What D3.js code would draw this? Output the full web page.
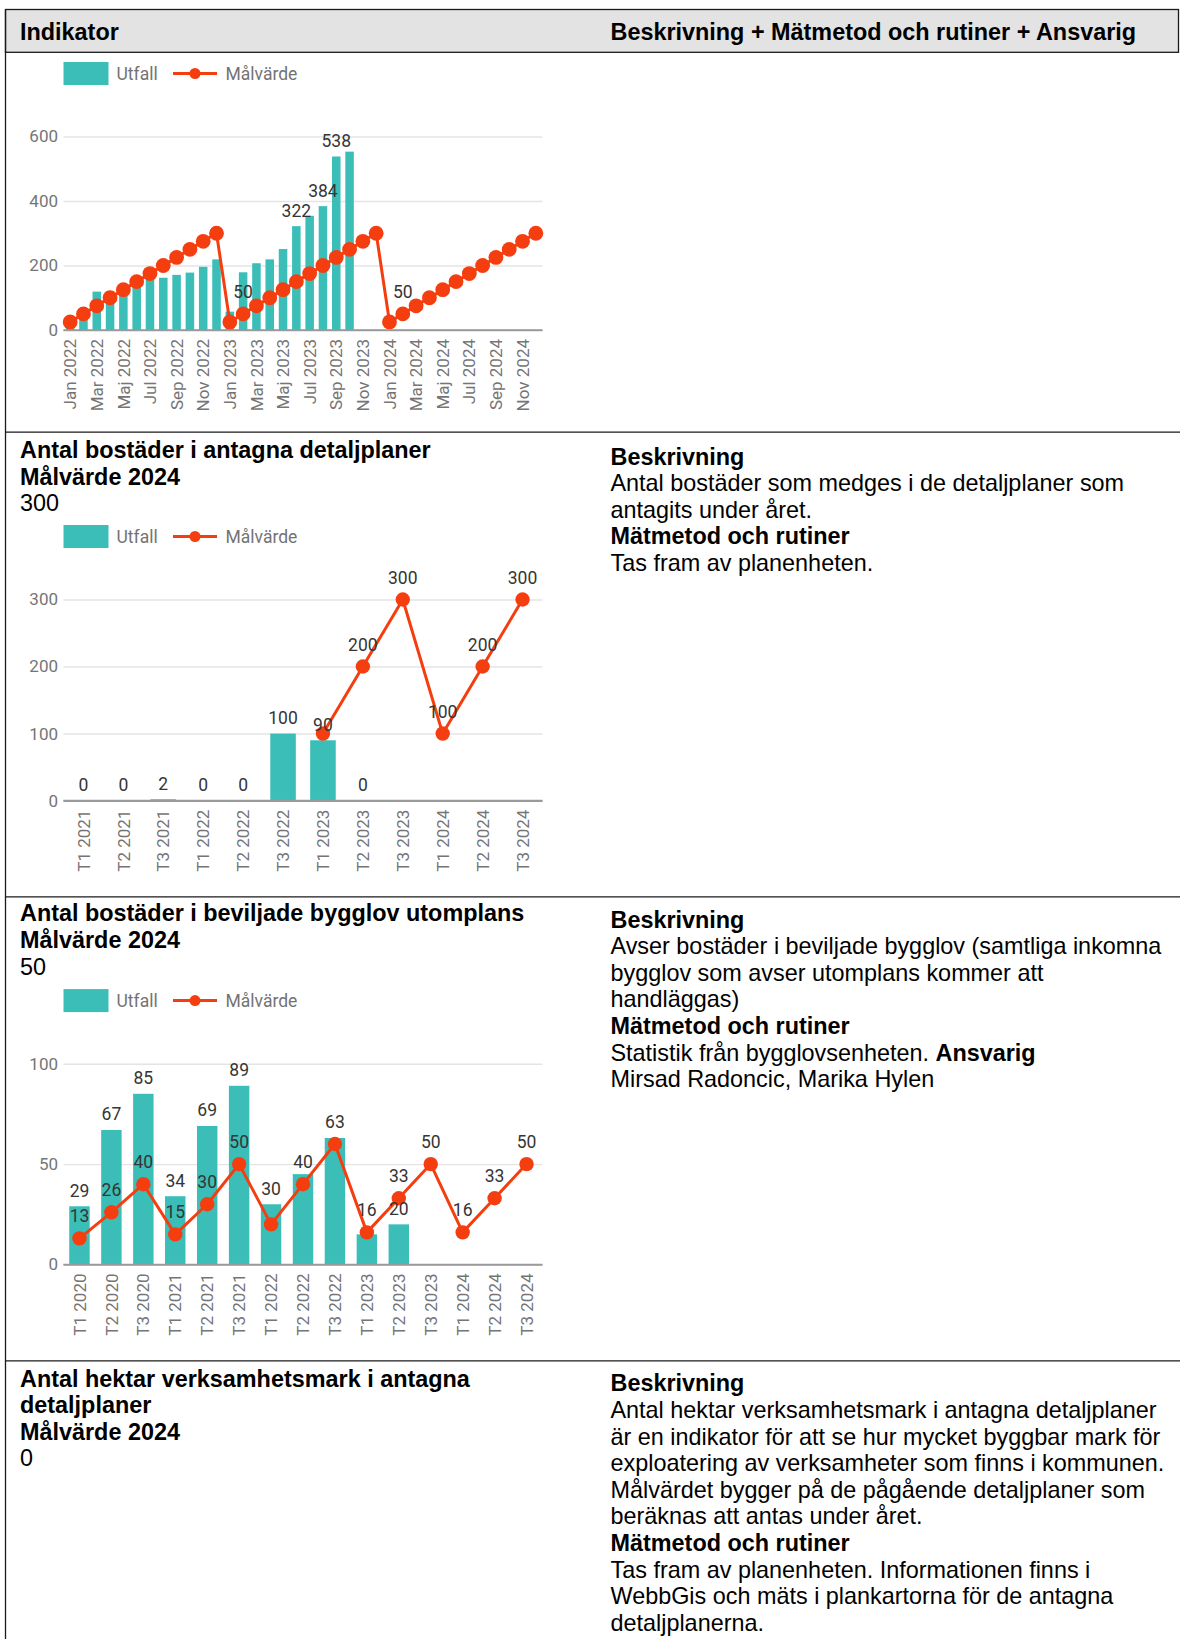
<!DOCTYPE html>
<html>
<head>
<meta charset="utf-8">
<script src="https://cdn.jsdelivr.net/npm/d3@7"></script>
<style>
  html, body { margin: 0; padding: 0; background: #fff; }
  svg { display: block; }
</style>
</head>
<body>
<svg id="page" width="1180" height="1639"></svg>
<script>
// ---------- Chart 1: monthly values 2022–2024 ----------
const monthCats = [
  "Jan 2022","Feb 2022","Mar 2022","Apr 2022","Maj 2022","Jun 2022","Jul 2022","Aug 2022","Sep 2022","Okt 2022","Nov 2022","Dec 2022",
  "Jan 2023","Feb 2023","Mar 2023","Apr 2023","Maj 2023","Jun 2023","Jul 2023","Aug 2023","Sep 2023","Okt 2023","Nov 2023","Dec 2023",
  "Jan 2024","Feb 2024","Mar 2024","Apr 2024","Maj 2024","Jun 2024","Jul 2024","Aug 2024","Sep 2024","Okt 2024","Nov 2024","Dec 2024"
];
const monthUtfall = [
  20, 45, 119, 120, 128, 140, 158, 162, 171, 178, 196, 219,
  57, 179, 207, 219, 251, 322, 354, 384, 538, 553, null, null,
  null, null, null, null, null, null, null, null, null, null, null, null
];
const monthMalvarde = [
  25, 50, 75, 100, 125, 150, 175, 200, 225, 250, 275, 300,
  25, 50, 75, 100, 125, 150, 175, 200, 225, 250, 275, 300,
  25, 50, 75, 100, 125, 150, 175, 200, 225, 250, 275, 300
];
const monthTickLabels = [
  "Jan 2022","Mar 2022","Maj 2022","Jul 2022","Sep 2022","Nov 2022",
  "Jan 2023","Mar 2023","Maj 2023","Jul 2023","Sep 2023","Nov 2023",
  "Jan 2024","Mar 2024","Maj 2024","Jul 2024","Sep 2024","Nov 2024"
];
const monthYTicks = [0, 200, 400, 600];
const monthBarLabelCats = ["Jun 2023", "Aug 2023", "Sep 2023"];
const monthLineLabelCats = ["Feb 2023", "Feb 2024"];

// ---------- Chart 2: bostäder i antagna detaljplaner ----------
const planCats = ["T1 2021","T2 2021","T3 2021","T1 2022","T2 2022","T3 2022","T1 2023","T2 2023","T3 2023","T1 2024","T2 2024","T3 2024"];
const planUtfall = [0, 0, 2, 0, 0, 100, 90, 0, null, null, null, null];
const planMalvarde = [null, null, null, null, null, null, 100, 200, 300, 100, 200, 300];
const planYTicks = [0, 100, 200, 300];
const planBarLabelCats = ["T1 2021","T2 2021","T3 2021","T1 2022","T2 2022","T3 2022","T1 2023","T2 2023"];
const planLineLabelCats = ["T2 2023","T3 2023","T1 2024","T2 2024","T3 2024"];

// ---------- Chart 3: bostäder i beviljade bygglov utomplans ----------
const bygglovCats = ["T1 2020","T2 2020","T3 2020","T1 2021","T2 2021","T3 2021","T1 2022","T2 2022","T3 2022","T1 2023","T2 2023","T3 2023","T1 2024","T2 2024","T3 2024"];
const bygglovUtfall = [29, 67, 85, 34, 69, 89, 30, 45, 63, 15, 20, null, null, null, null];
const bygglovMalvarde = [13, 26, 40, 15, 30, 50, 20, 40, 60, 16, 33, 50, 16, 33, 50];
const bygglovYTicks = [0, 50, 100];
const bygglovBarLabelCats = ["T1 2020","T2 2020","T3 2020","T1 2021","T2 2021","T3 2021","T1 2022","T3 2022","T2 2023"];
const bygglovLineLabelCats = ["T1 2020","T2 2020","T3 2020","T1 2021","T2 2021","T3 2021","T2 2022","T1 2023","T2 2023","T3 2023","T1 2024","T2 2024","T3 2024"];

// ---------- Table text ----------
const headerTitles = ["Indikator", "Beskrivning + Mätmetod och rutiner + Ansvarig"];
const legendNames = ["Utfall", "Målvärde"];

const planLeftText = [
  [["Antal bostäder i antagna detaljplaner", true]],
  [["Målvärde 2024", true]],
  [["300", false]]
];
const planRightText = [
  [["Beskrivning", true]],
  [["Antal bostäder som medges i de detaljplaner som", false]],
  [["antagits under året.", false]],
  [["Mätmetod och rutiner", true]],
  [["Tas fram av planenheten.", false]]
];
const bygglovLeftText = [
  [["Antal bostäder i beviljade bygglov utomplans", true]],
  [["Målvärde 2024", true]],
  [["50", false]]
];
const bygglovRightText = [
  [["Beskrivning", true]],
  [["Avser bostäder i beviljade bygglov (samtliga inkomna", false]],
  [["bygglov som avser utomplans kommer att", false]],
  [["handläggas)", false]],
  [["Mätmetod och rutiner", true]],
  [["Statistik från bygglovsenheten. ", false], ["Ansvarig", true]],
  [["Mirsad Radoncic, Marika Hylen", false]]
];
const hektarLeftText = [
  [["Antal hektar verksamhetsmark i antagna", true]],
  [["detaljplaner", true]],
  [["Målvärde 2024", true]],
  [["0", false]]
];
const hektarRightText = [
  [["Beskrivning", true]],
  [["Antal hektar verksamhetsmark i antagna detaljplaner", false]],
  [["är en indikator för att se hur mycket byggbar mark för", false]],
  [["exploatering av verksamheter som finns i kommunen.", false]],
  [["Målvärdet bygger på de pågående detaljplaner som", false]],
  [["beräknas att antas under året.", false]],
  [["Mätmetod och rutiner", true]],
  [["Tas fram av planenheten. Informationen finns i", false]],
  [["WebbGis och mäts i plankartorna för de antagna", false]],
  [["detaljplanerna.", false]]
];

// ---------- Styling ----------
const TEAL = "#3bbdb8";
const RED = "#f53e10";
const TABLE_FONT = "'Liberation Sans', Arial, sans-serif";
const CHART_FONT = "Roboto, 'Noto Sans', sans-serif";
const TEXT_SIZE = 23.4;
const LINE_H = 26.6;

const svg = d3.select("#page");

// ---------- Table frame ----------
const tableLeft = 5.5, tableRight = 1178.5;
const headerTop = 9.5, headerBottom = 52.3;
const rowLines = [432.2, 896.8, 1360.9];

svg.append("rect")
  .attr("x", tableLeft).attr("y", headerTop)
  .attr("width", tableRight - tableLeft).attr("height", headerBottom - headerTop)
  .attr("fill", "#e3e3e3").attr("stroke", "#1a1a1a").attr("stroke-width", 1.3);

svg.append("line")
  .attr("x1", tableLeft).attr("x2", tableLeft)
  .attr("y1", headerTop).attr("y2", 1639)
  .attr("stroke", "#1a1a1a").attr("stroke-width", 1.3);

svg.selectAll("line.rowsep").data(rowLines).enter().append("line")
  .attr("class", "rowsep")
  .attr("x1", tableLeft).attr("x2", 1180)
  .attr("y1", d => d).attr("y2", d => d)
  .attr("stroke", "#1a1a1a").attr("stroke-width", 1.3);

svg.selectAll("text.hdr").data(headerTitles).enter().append("text")
  .attr("class", "hdr")
  .attr("x", (d, i) => i === 0 ? 20 : 610.5)
  .attr("y", 39.5)
  .attr("font-family", TABLE_FONT).attr("font-size", TEXT_SIZE)
  .attr("font-weight", "bold").attr("fill", "#000")
  .text(d => d);

function textBlock(lines, x, firstBaseline) {
  const g = svg.append("g");
  lines.forEach((segs, i) => {
    const t = g.append("text")
      .attr("x", x).attr("y", firstBaseline + i * LINE_H)
      .attr("font-family", TABLE_FONT).attr("font-size", TEXT_SIZE)
      .attr("fill", "#000");
    segs.forEach(([s, bold]) => {
      t.append("tspan").attr("font-weight", bold ? "bold" : "normal").text(s);
    });
  });
}

textBlock(planLeftText, 20, rowLines[0] + 26);
textBlock(planRightText, 610.5, rowLines[0] + 32.3);
textBlock(bygglovLeftText, 20, rowLines[1] + 24.5);
textBlock(bygglovRightText, 610.5, rowLines[1] + 30.8);
textBlock(hektarLeftText, 20, rowLines[2] + 25.6);
textBlock(hektarRightText, 610.5, rowLines[2] + 30.5);

// ---------- Combo chart (bars + line) ----------
function comboChart(cfg) {
  const g = svg.append("g");
  const x0 = 63.5, x1 = 542.5;
  const pad = 0.36;

  const x = d3.scaleBand().domain(cfg.cats).range([x0, x1])
    .paddingInner(pad).paddingOuter(pad / 2);
  const cx = c => x(c) + x.bandwidth() / 2;
  const y = d3.scaleLinear().domain([0, d3.max(cfg.ticks)]).range([cfg.base, cfg.top]);

  // legend
  const ly = cfg.legendY;
  const leg = g.append("g");
  leg.append("rect").attr("x", 63.5).attr("y", ly - 11.5).attr("width", 45).attr("height", 23).attr("fill", TEAL);
  leg.append("text").attr("x", 116.5).attr("y", ly).attr("dy", "0.36em")
    .attr("font-family", CHART_FONT).attr("font-size", 17.5).attr("fill", "#737373").text(legendNames[0]);
  leg.append("line").attr("x1", 173).attr("x2", 217).attr("y1", ly).attr("y2", ly)
    .attr("stroke", RED).attr("stroke-width", 3);
  leg.append("circle").attr("cx", 195).attr("cy", ly).attr("r", 5.5).attr("fill", RED);
  leg.append("text").attr("x", 225.5).attr("y", ly).attr("dy", "0.36em")
    .attr("font-family", CHART_FONT).attr("font-size", 17.5).attr("fill", "#737373").text(legendNames[1]);

  // y axis with gridlines
  const ya = g.append("g").attr("transform", `translate(${x0},0)`)
    .call(d3.axisLeft(y).tickValues(cfg.ticks).tickSize(-(x1 - x0)).tickPadding(5.5));
  ya.select(".domain").remove();
  ya.selectAll(".tick line")
    .attr("stroke", d => d === 0 ? "#9a9a9a" : "#e4e4e4")
    .attr("stroke-width", d => d === 0 ? 1.6 : 1.4);
  ya.selectAll(".tick text")
    .attr("font-family", CHART_FONT).attr("font-size", 17).attr("fill", "#757575");

  // x axis with rotated labels
  const xa = g.append("g").attr("transform", `translate(0,${cfg.base})`)
    .call(d3.axisBottom(x).tickValues(cfg.tickCats).tickSize(0));
  xa.select(".domain").remove();
  xa.selectAll(".tick text")
    .attr("transform", "rotate(-90)")
    .attr("text-anchor", "end")
    .attr("x", -9).attr("y", 0).attr("dy", "0.36em")
    .attr("font-family", CHART_FONT).attr("font-size", 17).attr("fill", "#757575");

  // bars
  const barData = cfg.cats.map((c, i) => ({ c, v: cfg.utfall[i] })).filter(d => d.v != null);
  g.append("g").selectAll("rect").data(barData).enter().append("rect")
    .attr("x", d => x(d.c))
    .attr("y", d => y(d.v))
    .attr("width", x.bandwidth())
    .attr("height", d => y(0) - y(d.v))
    .attr("fill", TEAL);

  // zero line over bars
  g.append("line").attr("x1", x0).attr("x2", x1).attr("y1", y(0)).attr("y2", y(0))
    .attr("stroke", "#9a9a9a").attr("stroke-width", 1.6);

  // target line
  const lineData = cfg.cats.map((c, i) => ({ c, v: cfg.malvarde[i] }));
  const line = d3.line().defined(d => d.v != null).x(d => cx(d.c)).y(d => y(d.v));
  g.append("path").datum(lineData).attr("d", line)
    .attr("fill", "none").attr("stroke", RED).attr("stroke-width", 3).attr("stroke-linejoin", "round");
  g.append("g").selectAll("circle").data(lineData.filter(d => d.v != null)).enter().append("circle")
    .attr("cx", d => cx(d.c)).attr("cy", d => y(d.v)).attr("r", cfg.dotR).attr("fill", RED);

  // value labels
  const lab = g.append("g").attr("font-family", CHART_FONT).attr("font-size", 17.5)
    .attr("fill", "#353535").attr("text-anchor", "middle");
  lab.selectAll("text.bl").data(barData.filter(d => cfg.barLabelCats.includes(d.c))).enter().append("text")
    .attr("class", "bl")
    .attr("x", d => cx(d.c)).attr("y", d => y(d.v) - 9.5)
    .text(d => d.v);
  lab.selectAll("text.ll").data(lineData.filter(d => d.v != null && cfg.lineLabelCats.includes(d.c))).enter().append("text")
    .attr("class", "ll")
    .attr("x", d => cx(d.c)).attr("y", d => y(d.v) - 16)
    .text(d => d.v);
}

comboChart({
  cats: monthCats, utfall: monthUtfall, malvarde: monthMalvarde,
  ticks: monthYTicks, tickCats: monthTickLabels,
  barLabelCats: monthBarLabelCats, lineLabelCats: monthLineLabelCats,
  base: 330, top: 136.5, legendY: 73.5, dotR: 7.4
});
comboChart({
  cats: planCats, utfall: planUtfall, malvarde: planMalvarde,
  ticks: planYTicks, tickCats: planCats,
  barLabelCats: planBarLabelCats, lineLabelCats: planLineLabelCats,
  base: 800.6, top: 599.5, legendY: 536.5, dotR: 7.2
});
comboChart({
  cats: bygglovCats, utfall: bygglovUtfall, malvarde: bygglovMalvarde,
  ticks: bygglovYTicks, tickCats: bygglovCats,
  barLabelCats: bygglovBarLabelCats, lineLabelCats: bygglovLineLabelCats,
  base: 1264.5, top: 1063.7, legendY: 1000.6, dotR: 7.2
});
</script>
</body>
</html>
